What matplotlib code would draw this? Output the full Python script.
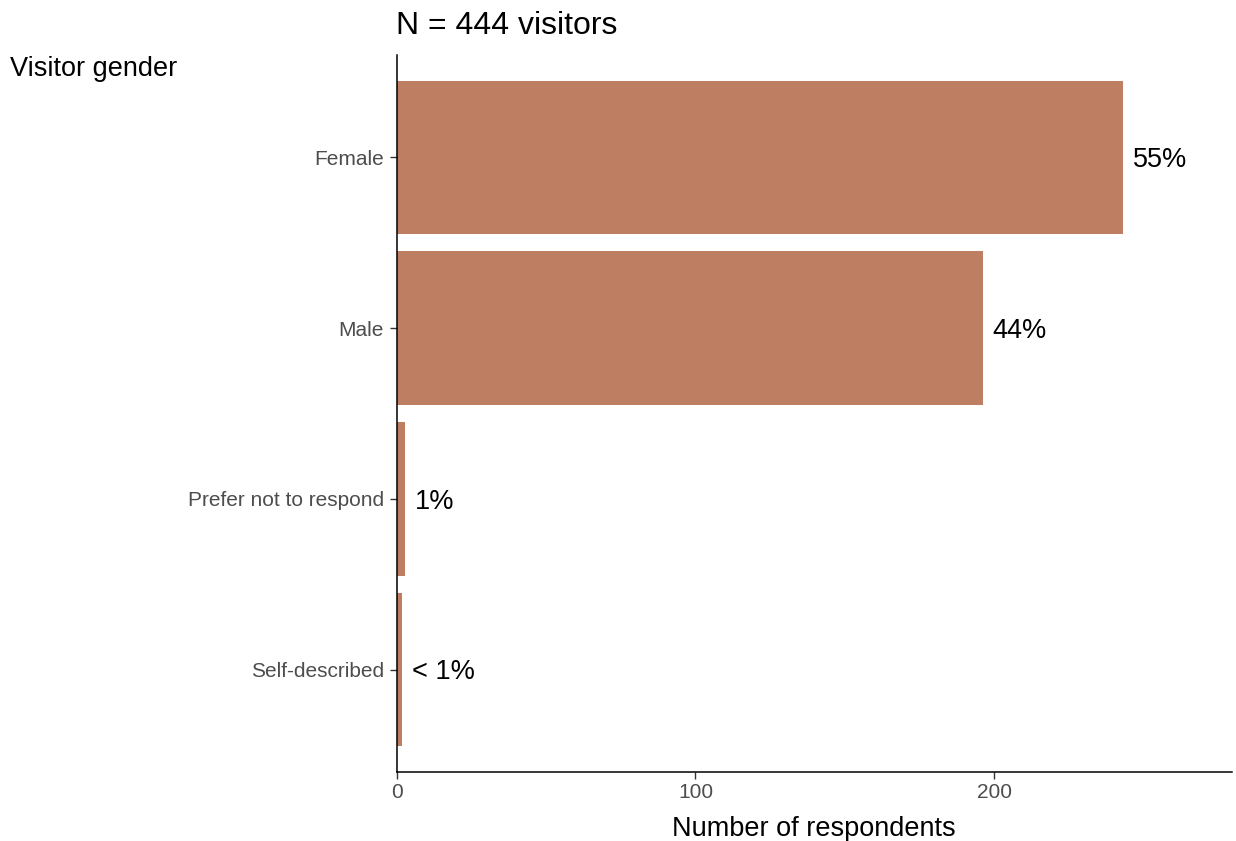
import matplotlib
matplotlib.use("Agg")
import matplotlib.pyplot as plt

categories = ["Female", "Male", "Prefer not to respond", "Self-described"]
counts = [243, 196, 3, 2]
pct_labels = ["55%", "44%", "1%", "< 1%"]
title = "N = 444 visitors"
ylabel = "Visitor gender"
xlabel = "Number of respondents"
xticks = [0, 100, 200]

plt.rcParams['font.family'] = ['Liberation Sans', 'DejaVu Sans']

fig = plt.figure(figsize=(12.36, 8.41), dpi=100)
ax = fig.add_axes([396.5/1236, 1-772/841, (1232-396.5)/1236, (772-55)/841])

n = len(categories)
ypos = [n - i for i in range(n)]
bar_color = "#BE7E62"
ax.barh(ypos, counts, height=0.9, color=bar_color)
for y, c, lab in zip(ypos, counts, pct_labels):
    ax.annotate(lab, (c, y), xytext=(7, -2), textcoords="offset points",
                va="center", ha="left", fontsize=19.5, color="black")

ax.set_xlim(0, max(counts) * 1.15)
ax.set_ylim(0.4, n + 0.6)
ax.set_yticks(ypos)
ax.set_yticklabels(categories)
ax.set_xticks(xticks)
ax.tick_params(axis="both", labelsize=15, labelcolor="#4D4D4D", color="#333333",
               length=5, width=1)
ax.tick_params(axis="x", pad=3)
ax.tick_params(axis="y", pad=4)
for s in ["top", "right"]:
    ax.spines[s].set_visible(False)
for s in ["left", "bottom"]:
    ax.spines[s].set_linewidth(1.1)
    ax.spines[s].set_color("black")

ax.set_xlabel(xlabel, fontsize=19.5, labelpad=10)
fig.text(10/1236, 1-69/841, ylabel, fontsize=19.5, ha="left", va="center")
fig.text(396.5/1236, 1-26/841, title, fontsize=23, ha="left", va="center")

fig.savefig("out.png", dpi=100)
